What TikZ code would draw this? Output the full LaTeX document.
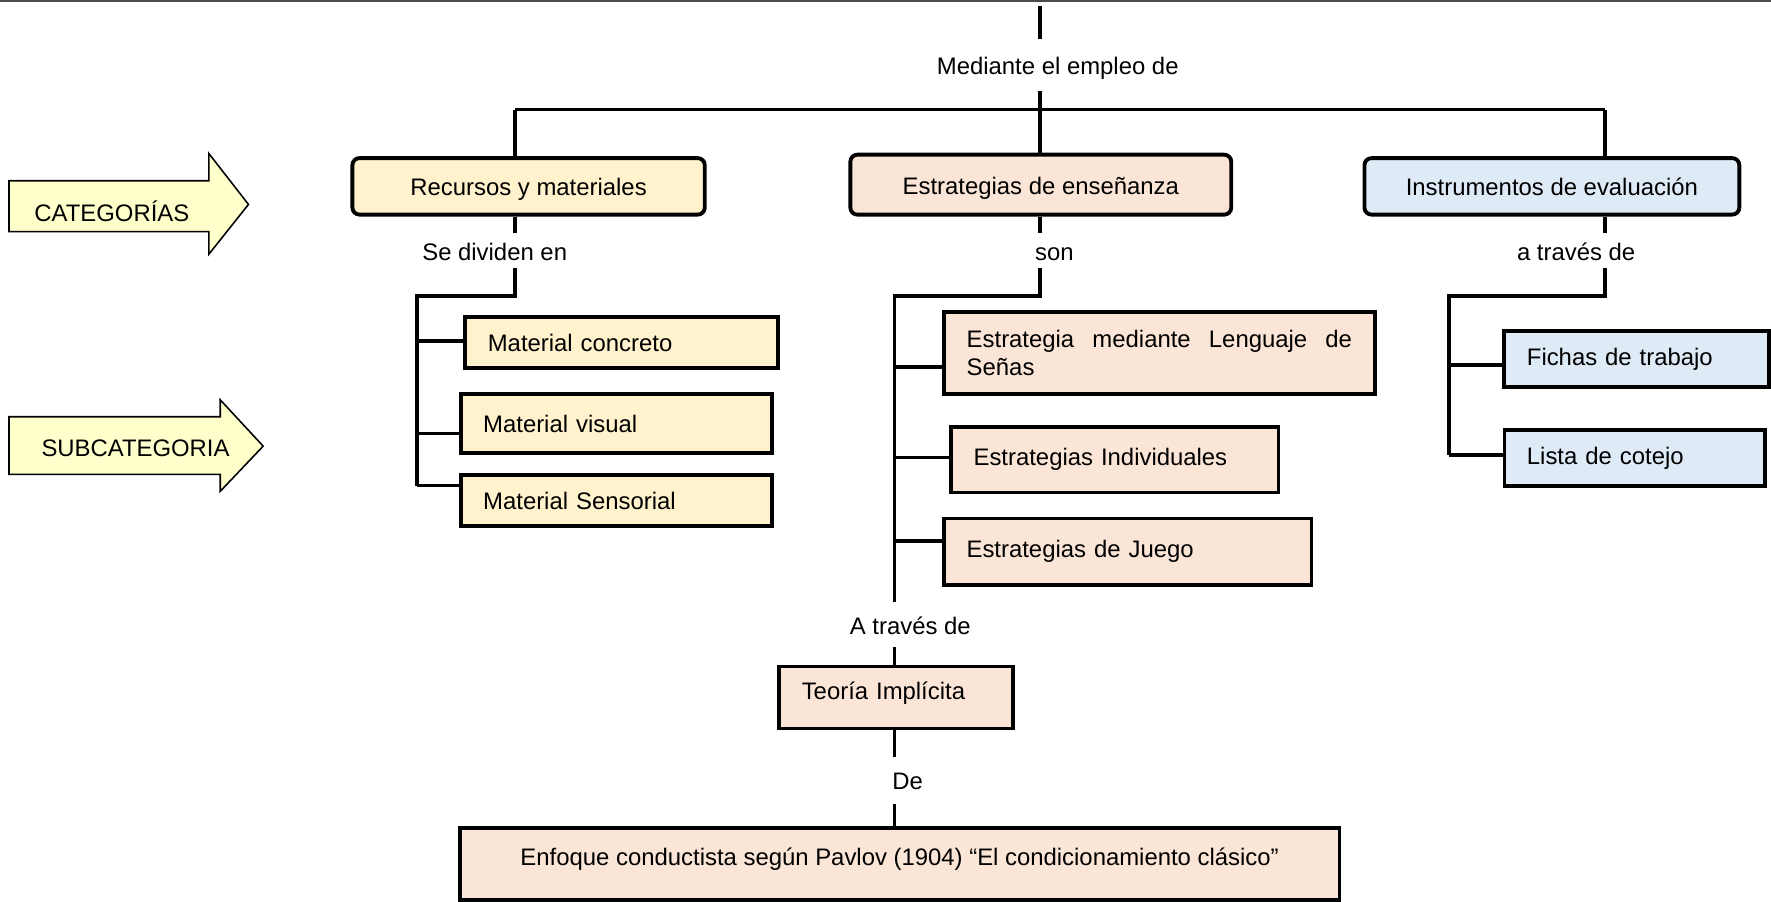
\documentclass[tikz,border=0pt]{standalone}
\usepackage{fontspec}
\setmainfont{Liberation Sans}
\usepackage{tikz}

\definecolor{recYellow}{HTML}{FFF2CC}
\definecolor{estPeach}{HTML}{FBE5D6}
\definecolor{insBlue}{HTML}{DEEBF7}
\definecolor{tagYellow}{HTML}{FFFFCC}

\tikzset{
    conn/.style={line width=2pt},
    catbox/.style={draw, line width=2.2pt, rounded corners=4pt, minimum height=1.13cm, text height=0.48cm, text depth=0.1cm, align=center},
    subbox/.style={draw, line width=2.2pt, inner xsep=0.45cm, align=left},
    lbl/.style={text height=0.4cm, text depth=0.02cm, inner xsep=1pt, inner ysep=0.3cm},
    lblshort/.style={lbl, inner ysep=0.13cm},
    tagarrow/.style={draw, line width=0.9pt, fill=tagYellow}}

\begin{document}
\begin{tikzpicture}[x=0.0226cm, y=-0.0226cm, font=\fontsize{13.6}{15.5}\selectfont]

            \useasboundingbox (0,0) rectangle (1568,798.6);

            \coordinate (edgeL) at (0,0.6);
            \coordinate (edgeR) at (1568,0.6);
            \draw[line width=1.2pt, black!70] (edgeL) -- (edgeR);

            \draw[tagarrow] (8,160) -- (185,160) -- (185,136) -- (220,181) -- (185,225) -- (185,205) -- (8,205) -- cycle;
            \node (tagCat) at (99,187) {CATEGORÍAS};
            \draw[tagarrow] (8,369) -- (195,369) -- (195,354) -- (233,395) -- (195,435) -- (195,420) -- (8,420) -- cycle;
            \node (tagSub) at (120,397) {SUBCATEGORIA};

            \node[catbox, fill=recYellow, minimum width=7.05cm] (C1) at (468,165) {Recursos y materiales};
            \node[catbox, fill=estPeach, minimum width=7.62cm, minimum height=1.2cm] (C2) at (921.5,163.5) {Estrategias de enseñanza};
            \node[catbox, fill=insBlue, minimum width=7.5cm] (C3) at (1374,165) {Instrumentos de evaluación};

            \node[lbl] (L0) at (936.5,57.5) {Mediante el empleo de};
            \node[lblshort] (L1) at (438,222) {Se dividen en};
            \node[lblshort] (L2) at (933.5,222) {son};
            \node[lblshort] (L3) at (1395.5,222) {a través de};
            \node[lbl, inner ysep=0.24cm] (L4) at (806,553) {A través de};
            \node[lbl, inner ysep=0.26cm] (L5) at (803.5,691) {De};

            \node[subbox, fill=recYellow, text width=5.36cm, minimum height=1.02cm] (M1) at (550.5,303.5) {Material concreto};
            \node[subbox, fill=recYellow, text width=5.32cm, minimum height=1.18cm] (M2) at (545.5,375) {Material visual};
            \node[subbox, fill=recYellow, text width=5.32cm, minimum height=1.02cm] (M3) at (545.5,443.5) {Material Sensorial};

            \node[subbox, fill=estPeach, text width=7.71cm, minimum height=1.65cm] (E1) at (1026.5,312.5) {\makebox[7.71cm][s]{Estrategia\hfill mediante\hfill Lenguaje\hfill de}\\Señas};
            \node[subbox, fill=estPeach, text width=5.65cm, minimum height=1.31cm] (E2) at (987,407) {Estrategias Individuales};
            \node[subbox, fill=estPeach, text width=6.45cm, minimum height=1.33cm] (E3) at (998.5,488.5) {Estrategias de Juego};

            \node[subbox, fill=insBlue, text width=4.39cm, minimum height=1.13cm] (I1) at (1449,318) {Fichas de trabajo};
            \node[subbox, fill=insBlue, text width=4.32cm, minimum height=1.11cm] (I2) at (1447.5,405.5) {Lista de cotejo};

            \node[subbox, fill=estPeach, text width=3.78cm, minimum height=1.24cm, text depth=0.25cm] (T1) at (793.5,617.5) {Teoría Implícita};
            \node[subbox, fill=estPeach, align=center, minimum width=17.6cm, minimum height=1.45cm, text depth=0.3cm] (F1) at (796.5,765) {Enfoque conductista según Pavlov (1904) “El condicionamiento clásico”};

            \coordinate (S0) at (921,5);
            \coordinate (barL) at (456,97);
            \coordinate (barR) at (1421,97);
            \coordinate (J1) at (456,262);
            \coordinate (R1) at (369,262);
            \coordinate (J2) at (921,262);
            \coordinate (R2) at (792,262);
            \coordinate (J3) at (1421,262);
            \coordinate (R3) at (1283,262);
            \coordinate (B11) at (369,302);
            \coordinate (B12) at (369,384);
            \coordinate (B13) at (369,430);
            \coordinate (B21) at (792,325);
            \coordinate (B22) at (792,405);
            \coordinate (B23) at (792,479);
            \coordinate (B31) at (1283,323);
            \coordinate (B32) at (1283,403);

            \draw[conn] (S0) -- (S0 |- L0.north);
            \draw[conn] (S0 |- L0.south) -- (S0 |- C2.north);
            \draw[conn] (barL) -- (barR);
            \draw[conn] (barL) -- (barL |- C1.north);
            \draw[conn] (barR) -- (barR |- C3.north);

            \draw[conn] (barL |- C1.south) -- (barL |- L1.north);
            \draw[conn] (barL |- L1.south) -- (J1) -- (R1) -- (B13);
            \draw[conn] (B11) -- (B11 -| M1.west);
            \draw[conn] (B12) -- (B12 -| M2.west);
            \draw[conn] (B13) -- (B13 -| M3.west);

            \draw[conn] (S0 |- C2.south) -- (S0 |- L2.north);
            \draw[conn] (S0 |- L2.south) -- (J2) -- (R2) -- (R2 |- L4.north);
            \draw[conn] (B21) -- (B21 -| E1.west);
            \draw[conn] (B22) -- (B22 -| E2.west);
            \draw[conn] (B23) -- (B23 -| E3.west);
            \draw[conn] (R2 |- L4.south) -- (R2 |- T1.north);
            \draw[conn] (R2 |- T1.south) -- (R2 |- L5.north);
            \draw[conn] (R2 |- L5.south) -- (R2 |- F1.north);

            \draw[conn] (barR |- C3.south) -- (barR |- L3.north);
            \draw[conn] (barR |- L3.south) -- (J3) -- (R3) -- (B32);
            \draw[conn] (B31) -- (B31 -| I1.west);
            \draw[conn] (B32) -- (B32 -| I2.west);

        \end{tikzpicture}
\end{document}
